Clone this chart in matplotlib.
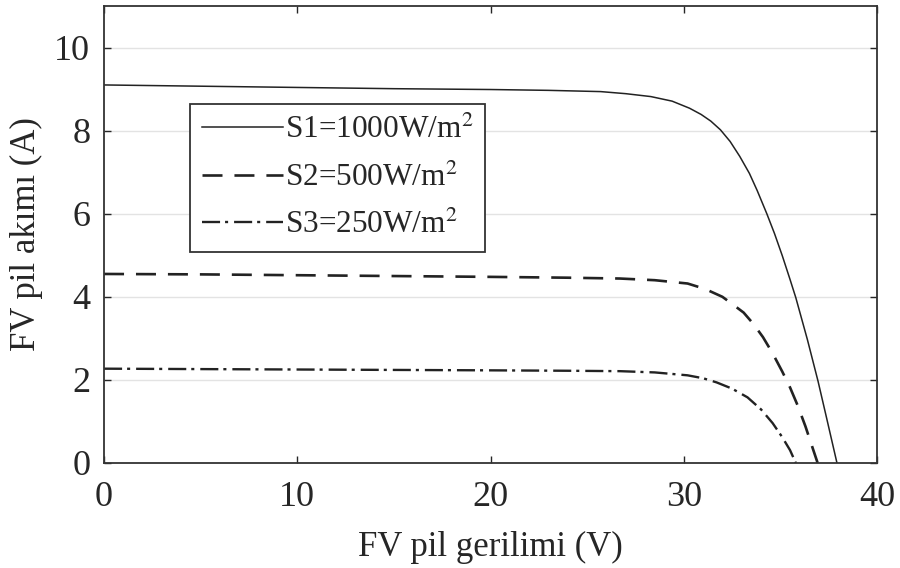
import numpy as np
import matplotlib
matplotlib.use('Agg')
import matplotlib.pyplot as plt

plt.rcParams['font.family'] = ['Liberation Serif', 'DejaVu Serif']
plt.rcParams['mathtext.fontset'] = 'stix'
plt.rcParams['lines.scale_dashes'] = False

# values
v1 = [0, 5, 10, 15, 20, 23, 25.7, 27, 28.3, 29.4, 30.3, 30.9, 31.4, 31.9, 32.4, 32.9,
      33.4, 33.8, 34.3, 34.7, 35.1, 35.5, 35.8, 36.4, 36.95, 37.4, 37.93]
i1 = [9.1, 9.07, 9.04, 9.01, 8.99, 8.97, 8.94, 8.89, 8.82, 8.71, 8.54, 8.39, 8.23, 8.02, 7.74, 7.38,
      6.97, 6.56, 6.0, 5.52, 4.99, 4.42, 3.98, 2.97, 1.97, 1.07, 0]

v2 = [0, 5, 10, 15, 20, 24, 26.7, 28.5, 30.2, 31.1, 32.0, 32.5, 33.1, 33.6, 34.1, 34.6,
      35.1, 35.5, 35.9, 36.3, 36.7, 36.93]
i2 = [4.55, 4.54, 4.52, 4.5, 4.48, 4.46, 4.44, 4.4, 4.32, 4.19, 4.0, 3.83, 3.62, 3.35, 3.03, 2.64,
      2.2, 1.82, 1.38, 0.88, 0.32, 0]

v3 = [0, 5, 10, 15, 20, 24, 26.7, 28.5, 30.2, 31.0, 31.7, 32.5, 33.3, 34.0, 34.6, 35.1, 35.5, 35.8]
i3 = [2.27, 2.26, 2.25, 2.24, 2.23, 2.22, 2.21, 2.18, 2.11, 2.04, 1.94, 1.79, 1.58, 1.29, 0.96, 0.62, 0.31, 0]

labels = [r'S1=1000W/m$^2$', r'S2=500W/m$^2$', r'S3=250W/m$^2$']

xticks = [0, 10, 20, 30, 40]
yticks = [0, 2, 4, 6, 8, 10]

col = '#222222'
fig = plt.figure(figsize=(9, 5.68), dpi=100)
ax = fig.add_axes([0.1156, 0.1849, 0.8588, 0.8045])

ax.plot(v1, i1, color=col, lw=1.1, label=labels[0])
ax.plot(v2, i2, color=col, lw=1.9, dashes=(14.4, 8.6), label=labels[1])
ax.plot(v3, i3, color=col, lw=1.7, dashes=(13, 3.6, 2.2, 4.3), label=labels[2])

ax.set_xlim(0, 40)
ax.set_ylim(0, 11)
ax.set_xticks(xticks)
ax.set_yticks(yticks)
for y in yticks[1:]:
    ax.axhline(y, color='#e3e3e3', lw=1, zorder=0)

ax.tick_params(direction='in', top=True, right=True, labelsize=26, colors='#262626',
               length=5, width=1)
ax.tick_params(axis='x', pad=13)
ax.tick_params(axis='y', pad=10)
for s in ax.spines.values():
    s.set_color('#333333')
    s.set_linewidth(1.3)

ax.set_xlabel('FV pil gerilimi (V)', fontsize=25, color='#262626', labelpad=12)
ax.set_ylabel('FV pil akımı (A)', fontsize=25, color='#262626', labelpad=8)

leg = ax.legend(loc='upper left', bbox_to_anchor=(0.111, 0.786), borderaxespad=0,
                fontsize=22.5, fancybox=False, edgecolor='#333333', framealpha=1,
                handlelength=2.6, handletextpad=0.05, labelspacing=0.585,
                borderpad=0.39)
leg.get_frame().set_linewidth(1.3)
for t in leg.get_texts():
    t.set_color('#262626')

fig.savefig('out.png', dpi=100)
